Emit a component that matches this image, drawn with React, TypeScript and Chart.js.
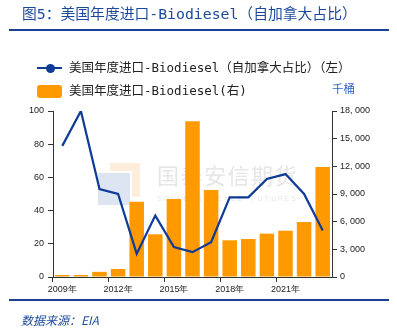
import React, { useEffect, useRef } from "react";
import { Chart, registerables } from "chart.js";

Chart.register(...registerables);

const years = ["2009年", "2010年", "2011年", "2012年", "2013年", "2014年", "2015年", "2016年", "2017年", "2018年", "2019年", "2020年", "2021年", "2022年", "2023年"];
const canadaShare = [79, 100, 53, 50, 14, 37, 18, 15, 21, 48, 48, 59, 62, 50, 28];
const importsKbbl = [220, 220, 560, 870, 8170, 4630, 8460, 16900, 9430, 3980, 4120, 4700, 5020, 5960, 11930];
const leftTicks = { min: 0, max: 100, step: 20 };
const rightTicks = { min: 0, max: 18000, step: 3000 };

const titleText = "图5：美国年度进口-Biodiesel（自加拿大占比）";
const lineLabel = "美国年度进口-Biodiesel（自加拿大占比）（左）";
const barLabel = "美国年度进口-Biodiesel(右)";
const unitText = "千桶";
const sourceText = "数据来源：EIA";
const watermarkCn = "国泰安信期货";
const watermarkEn = "SOLID SCIENCE FUTURES";

const BLUE = "#0D3B96";
const ORANGE = "#FF9900";
const AXIS = "#333333";
const TICK_FONT = { family: "'Liberation Sans', Arial, sans-serif", size: 9 };
const MONO_CJK = "'DejaVu Sans Mono', 'Noto Sans CJK SC', monospace";

function fmt(v: number) {
  const s = String(Math.round(v));
  return s.length > 3 ? s.slice(0, s.length - 3) + ", " + s.slice(s.length - 3) : s;
}

const watermark = {
  id: "watermark",
  beforeDatasetsDraw(chart: any) {
    const ctx = chart.ctx;
    ctx.save();
    ctx.fillStyle = "#fdeedb";
    ctx.fillRect(110, 163, 30, 8);
    ctx.fillRect(132, 163, 8, 34);
    ctx.fillStyle = "#dde5f3";
    ctx.fillRect(98, 173, 32, 32);
    ctx.fillStyle = "#e6e6e6";
    ctx.font = "22px 'Noto Sans CJK SC'";
    ctx.textBaseline = "middle";
    ctx.textAlign = "left";
    const cw = 23.5;
    for (let i = 0; i < watermarkCn.length; i++) {
      ctx.fillText(watermarkCn[i], 157 + i * cw, 176);
    }
    ctx.font = "7px 'Liberation Sans'";
    const lw = 141 / watermarkEn.length;
    for (let i = 0; i < watermarkEn.length; i++) {
      ctx.fillText(watermarkEn[i], 157 + i * lw, 199);
    }
    ctx.restore();
  },
};

export default function App() {
  const ref = useRef<HTMLCanvasElement>(null);

  useEffect(() => {
    if (!ref.current) return;
    const chart = new Chart(ref.current, {
      type: "bar",
      data: {
        labels: years,
        datasets: [
          {
            type: "line",
            label: lineLabel,
            data: canadaShare,
            yAxisID: "y",
            borderColor: BLUE,
            backgroundColor: BLUE,
            borderWidth: 2.2,
            pointRadius: 0,
            tension: 0,
            order: 0,
          } as any,
          {
            type: "bar",
            label: barLabel,
            data: importsKbbl,
            yAxisID: "y1",
            backgroundColor: ORANGE,
            borderWidth: 0,
            categoryPercentage: 1,
            barPercentage: 0.78,
            order: 1,
          } as any,
        ],
      },
      options: {
        responsive: false,
        animation: false,
        devicePixelRatio: 1,
        layout: { padding: { left: 0, right: 0, top: 111, bottom: 30 } },
        plugins: { legend: { display: false }, tooltip: { enabled: false }, title: { display: false } },
        scales: {
          x: {
            offset: true,
            grid: {
              offset: true,
              drawOnChartArea: false,
              drawTicks: true,
              tickLength: 5,
              tickColor: (c: any) => (c.index % 3 === 0 ? AXIS : "rgba(0,0,0,0)"),
            },
            border: { display: true, color: AXIS, width: 1 },
            ticks: {
              autoSkip: false,
              maxRotation: 0,
              minRotation: 0,
              padding: 2,
              color: "#222",
              font: TICK_FONT,
              callback: (_v: any, i: number) => (i % 3 === 0 ? years[i] : ""),
            },
            afterFit: (s: any) => {
              s.height = 24;
            },
          },
          y: {
            position: "left",
            min: leftTicks.min,
            max: leftTicks.max,
            grid: { drawOnChartArea: false, tickLength: 5, tickColor: AXIS },
            border: { display: true, color: AXIS, width: 1 },
            ticks: { stepSize: leftTicks.step, padding: 4, color: "#222", font: TICK_FONT },
            afterFit: (s: any) => {
              s.width = 53;
            },
          },
          y1: {
            position: "right",
            min: rightTicks.min,
            max: rightTicks.max,
            grid: { drawOnChartArea: false, tickLength: 5, tickColor: AXIS },
            border: { display: true, color: AXIS, width: 1 },
            ticks: {
              stepSize: rightTicks.step,
              padding: 3,
              color: "#222",
              font: TICK_FONT,
              callback: (v: any) => fmt(Number(v)),
            },
            afterFit: (s: any) => {
              s.width = 65;
            },
          },
        },
      } as any,
      plugins: [watermark],
    });
    return () => chart.destroy();
  }, []);

  const abs = (style: React.CSSProperties): React.CSSProperties => ({ position: "absolute", whiteSpace: "nowrap", ...style });

  return (
    <div style={{ position: "absolute", left: 0, top: 0, width: 397, height: 331, background: "#fff", overflow: "hidden" }}>
      <canvas ref={ref} width={397} height={331} style={{ position: "absolute", left: 0, top: 0, width: 397, height: 331 }} />
      <div style={abs({ left: 22, top: 4, height: 20, lineHeight: "20px", fontFamily: MONO_CJK, fontSize: 14.8, color: "#1B4A9C" })}>{titleText}</div>
      <div style={abs({ left: 9, top: 29, width: 380, height: 2, background: "#1B3F93" })} />
      <div style={abs({ left: 37, top: 67, width: 25, height: 2, background: BLUE })} />
      <div style={abs({ left: 45.5, top: 63.5, width: 9, height: 9, borderRadius: "50%", background: BLUE })} />
      <div style={abs({ left: 69, top: 59, height: 18, lineHeight: "18px", fontFamily: MONO_CJK, fontSize: 12.5, color: "#222" })}>{lineLabel}</div>
      <div style={abs({ left: 37, top: 85, width: 25, height: 13, borderRadius: 3, background: ORANGE })} />
      <div style={abs({ left: 69, top: 82, height: 18, lineHeight: "18px", fontFamily: MONO_CJK, fontSize: 12.5, color: "#222" })}>{barLabel}</div>
      <div style={abs({ left: 332, top: 79, height: 18, lineHeight: "18px", fontFamily: "'Noto Sans CJK SC'", fontSize: 11.5, color: "#2F5FCF" })}>{unitText}</div>
      <div style={abs({ left: 9, top: 299, width: 380, height: 2, background: "#1B3F93" })} />
      <div style={abs({ left: 21, top: 311, height: 18, lineHeight: "18px", fontFamily: "'Noto Sans CJK SC'", fontSize: 12, fontStyle: "italic", color: "#1B4A9C" })}>{sourceText}</div>
    </div>
  );
}
